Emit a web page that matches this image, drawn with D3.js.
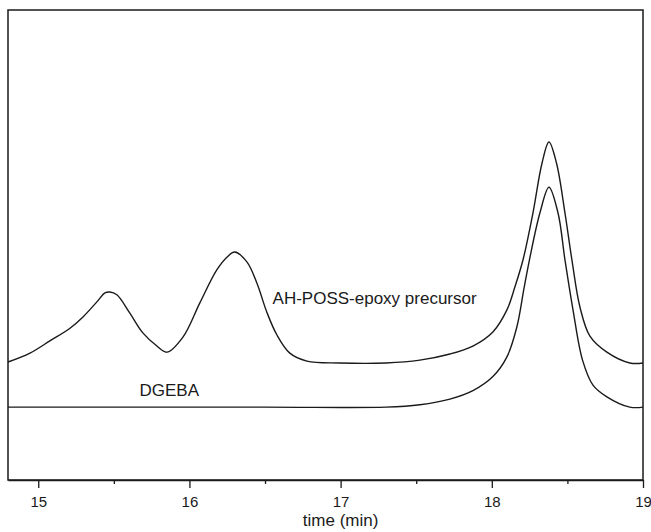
<!DOCTYPE html>
<html>
<head>
<meta charset="utf-8">
<script src="https://cdn.jsdelivr.net/npm/d3@7"></script>
<style>
  body { margin: 0; background: #fff; }
  svg text { font-family: "Liberation Sans", Arial, sans-serif; fill: #1a1a1a; }
</style>
</head>
<body>
<div id="chart"></div>
<script>
// values (time in min, signal in arbitrary units)
var ahTime = [14.80, 14.945, 15.077, 15.210, 15.296, 15.388, 15.441, 15.474, 15.520, 15.606,
  15.692, 15.785, 15.851, 15.957, 16.069, 16.181, 16.248, 16.300, 16.380, 16.446,
  16.512, 16.578, 16.664, 16.777, 16.995, 17.30, 17.524, 17.723, 17.875, 18.007,
  18.100, 18.153, 18.206, 18.272, 18.332, 18.378, 18.428, 18.484, 18.530, 18.583,
  18.649, 18.761, 18.913, 19.0];
var ahSignal = [25.1, 27.0, 29.6, 32.3, 34.7, 37.9, 39.8, 40.0, 39.4, 35.5,
  31.3, 28.5, 27.2, 30.4, 37.7, 44.7, 47.4, 48.5, 46.4, 41.9,
  35.7, 30.9, 27.0, 25.3, 24.9, 24.9, 25.5, 26.8, 28.5, 31.5,
  36.2, 41.1, 46.8, 56.8, 67.4, 71.9, 67.4, 56.8, 46.8, 36.8,
  30.6, 27.2, 24.9, 24.9];

var dgTime = [14.80, 16.5, 17.30, 17.524, 17.723, 17.875, 18.007, 18.100, 18.166, 18.212,
  18.250, 18.318, 18.378, 18.438, 18.484, 18.537, 18.600, 18.669, 18.761, 18.913, 19.0];
var dgSignal = [15.5, 15.5, 15.5, 16.0, 17.2, 19.0, 22.0, 26.2, 32.6, 40.6,
  47.0, 56.8, 62.3, 56.8, 46.8, 36.2, 25.5, 20.2, 17.7, 15.5, 15.5];

var majorTicks = [15, 16, 17, 18, 19];
var minorTicks = [15.5, 16.5, 17.5, 18.5];

var seriesNames = ["AH-POSS-epoxy precursor", "DGEBA"];
// label anchors: [time, signal]
var labelPos = [[16.55, 37.5], [15.67, 17.8]];

var margin = {top: 10, right: 8, bottom: 52, left: 8},
    width = 651 - margin.left - margin.right,
    height = 532 - margin.top - margin.bottom;

var svg = d3.select("#chart")
  .append("svg")
    .attr("width", 651)
    .attr("height", 532)
  .append("g")
    .attr("transform", "translate(" + margin.left + "," + margin.top + ")");

var x = d3.scaleLinear()
  .domain([14.8, 19.0])
  .range([0, width]);

var y = d3.scaleLinear()
  .domain([0, 100])
  .range([height, 0]);

// frame
svg.append("rect")
  .attr("x", 0)
  .attr("y", 0)
  .attr("width", width)
  .attr("height", height)
  .attr("fill", "none")
  .attr("stroke", "#1a1a1a")
  .attr("stroke-width", 1.5);

// x axis, major ticks
var xAxis = svg.append("g")
  .attr("transform", "translate(0," + height + ")")
  .call(d3.axisBottom(x).tickValues(majorTicks).tickFormat(d3.format("d"))
    .tickSize(8).tickSizeOuter(0).tickPadding(8));
xAxis.select(".domain").attr("stroke", "#1a1a1a").attr("stroke-width", 1.5);
xAxis.selectAll(".tick line").attr("stroke", "#1a1a1a").attr("stroke-width", 1.3);
xAxis.selectAll("text")
  .style("font-size", "15px")
  .style("font-family", "'Liberation Sans', Arial, sans-serif")
  .attr("fill", "#1a1a1a");

// minor ticks
var xMinor = svg.append("g")
  .attr("transform", "translate(0," + height + ")")
  .call(d3.axisBottom(x).tickValues(minorTicks).tickSize(4).tickSizeOuter(0).tickFormat(""));
xMinor.select(".domain").remove();
xMinor.selectAll(".tick line").attr("stroke", "#1a1a1a").attr("stroke-width", 1.3);

// axis title
svg.append("text")
  .attr("x", x(17))
  .attr("y", height + 46)
  .attr("text-anchor", "middle")
  .style("font-size", "17px")
  .text("time (min)");

var line = d3.line()
  .x(function(d) { return x(d[0]); })
  .y(function(d) { return y(d[1]); })
  .curve(d3.curveCatmullRom.alpha(0.5));

var ahData = d3.zip(ahTime, ahSignal);
var dgData = d3.zip(dgTime, dgSignal);

svg.append("path")
  .datum(ahData)
  .attr("d", line)
  .attr("fill", "none")
  .attr("stroke", "#1a1a1a")
  .attr("stroke-width", 1.4);

svg.append("path")
  .datum(dgData)
  .attr("d", line)
  .attr("fill", "none")
  .attr("stroke", "#1a1a1a")
  .attr("stroke-width", 1.4);

// series labels
svg.selectAll("mylabel")
  .data(seriesNames)
  .enter()
  .append("text")
    .attr("x", function(d, i) { return x(labelPos[i][0]); })
    .attr("y", function(d, i) { return y(labelPos[i][1]); })
    .style("font-size", "17px")
    .text(function(d) { return d; });
</script>
</body>
</html>
